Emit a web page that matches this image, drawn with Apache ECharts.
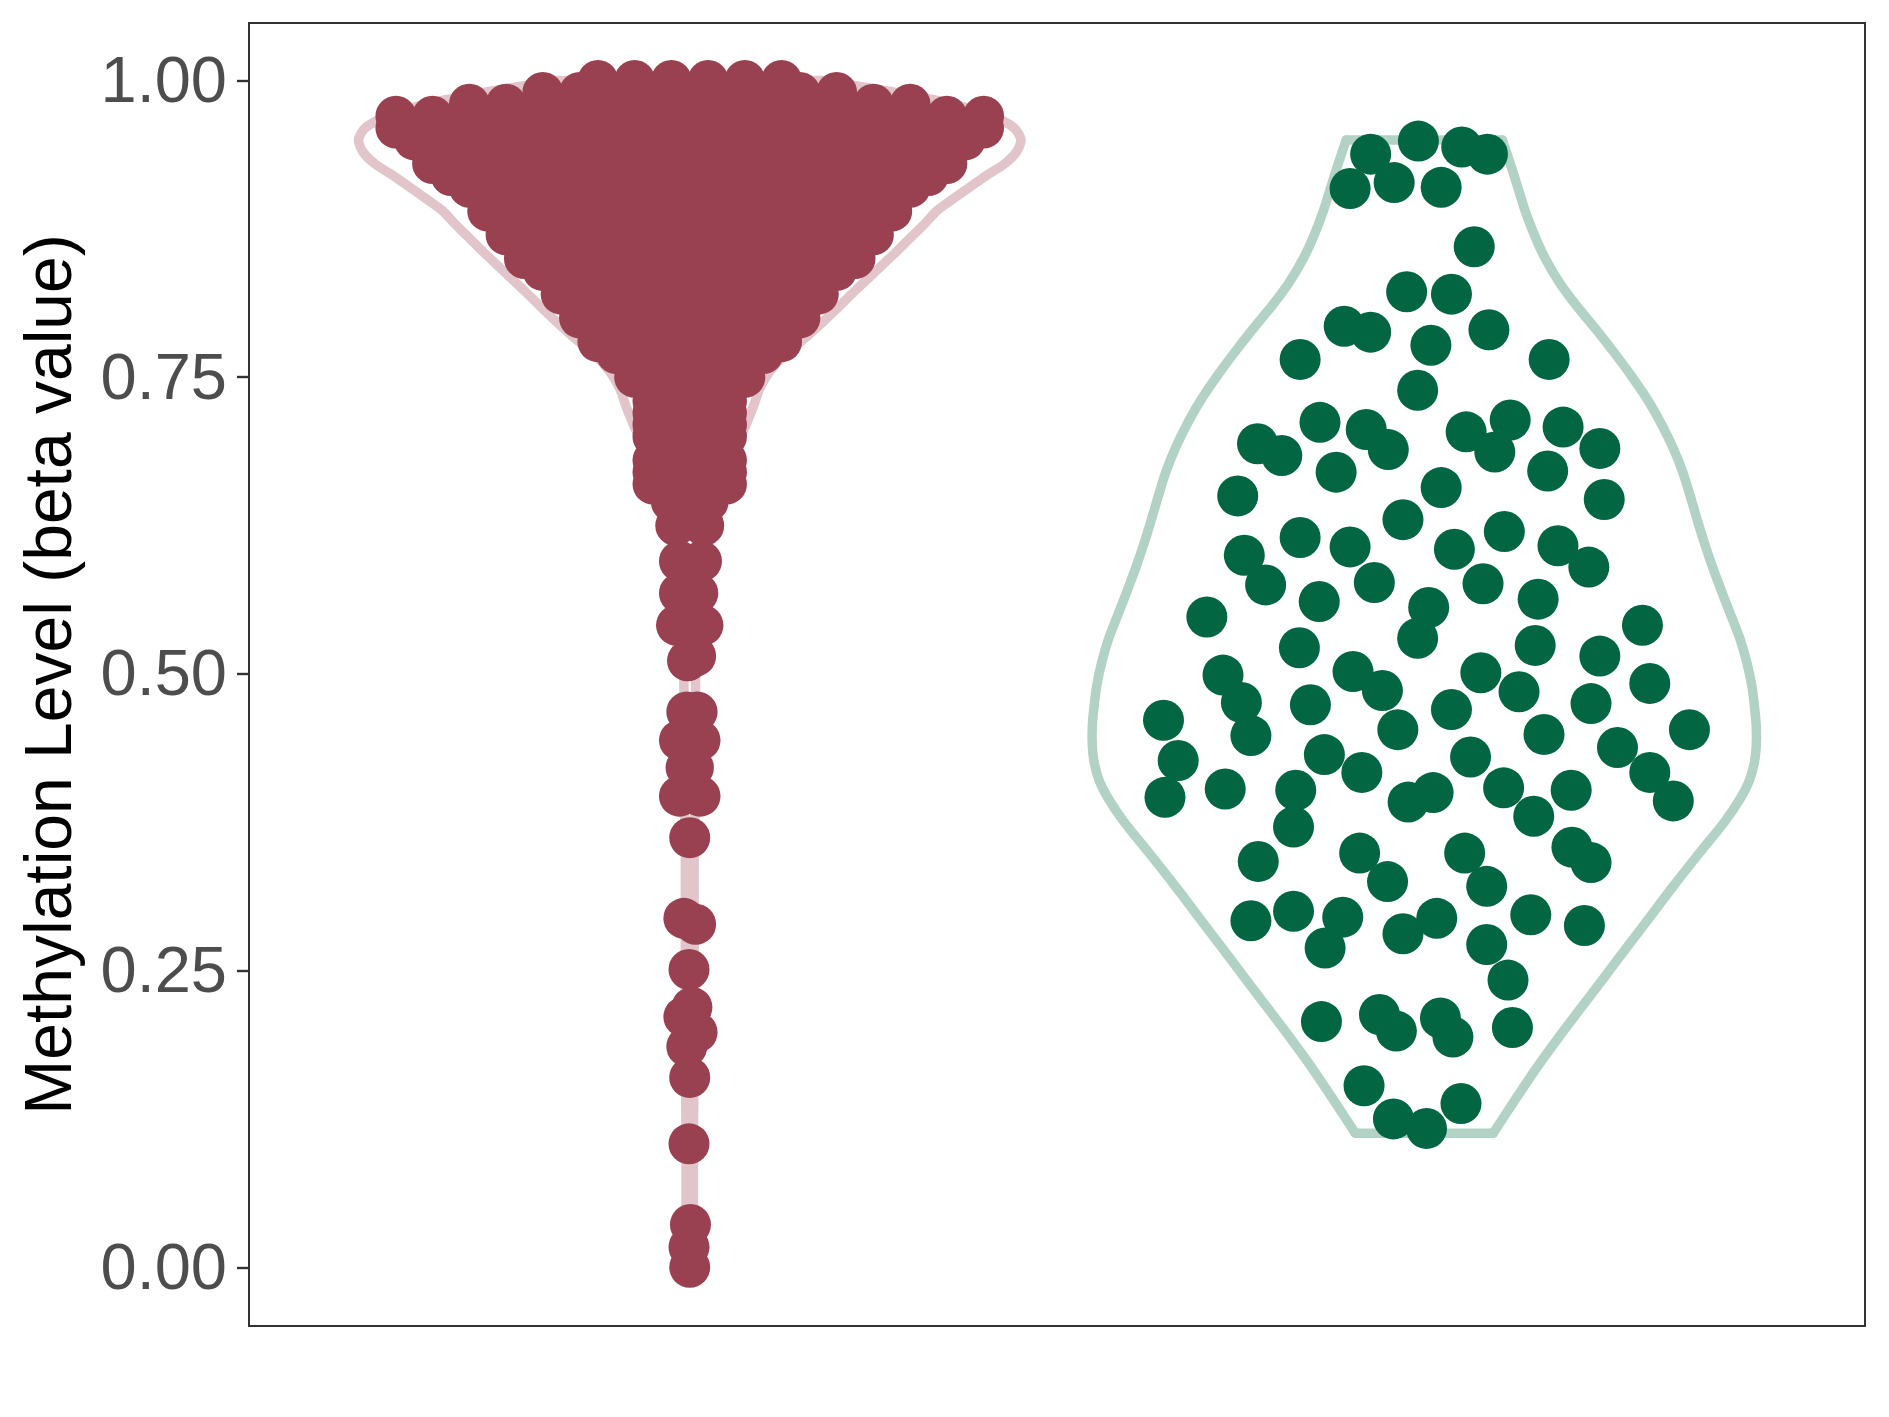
<!DOCTYPE html>
<html>
<head>
<meta charset="utf-8">
<script src="https://cdn.jsdelivr.net/npm/echarts@6/dist/echarts.min.js"></script>
<style>
html,body{margin:0;padding:0;background:#ffffff;}
#chart{width:1889px;height:1417px;}
</style>
</head>
<body>
<div id="chart"></div>
<script>
// ---------------- data ----------------
const groupPositions = [1, 2];               // left group, right group (x positions)
const yTicks = [0, 0.25, 0.5, 0.75, 1];

// Left group: dense beeswarm rows (value level, number of points at that level)
const leftRowY = [1.00,0.99,0.98,0.97,0.96,0.95,0.94,0.93,0.92,0.91,0.90,0.89,0.88,0.87,0.86,0.85,0.84,0.83,0.82,0.81,0.80,0.79,0.78,0.77,0.76,0.75,0.74,0.73,0.72,0.71,0.70,0.69,0.68,0.67,0.66];
const leftRowCount = [6,9,13,17,17,16,15,15,14,13,12,12,11,11,10,10,9,8,8,7,7,6,6,5,4,4,3,3,3,3,3,2,3,3,3];

// Left group: sparse tail points (value, horizontal swarm offset)
const leftTailY  = [0.645,0.645,0.625,0.625,0.595,0.595,0.568,0.568,0.541,0.541,0.515,0.511,0.468,0.468,0.444,0.444,0.421,0.421,0.397,0.397,0.362,0.294,0.289,0.251,0.219,0.211,0.198,0.186,0.160,0.104,0.036,0.017,0.000];
const leftTailDx = [-0.025,0.025,-0.019,0.019,-0.014,0.016,-0.014,0.011,-0.018,0.018,0.008,-0.003,-0.004,0.010,-0.014,0.014,-0.005,0.005,-0.014,0.014,0.000,-0.008,0.008,-0.001,0.003,-0.008,0.010,-0.004,0.000,-0.001,0.001,-0.001,0.000];

// Right group: values and jitter offsets
const rightY = [0.938,0.949,0.909,0.914,0.910,0.822,0.793,0.788,0.765,0.777,0.739,0.712,0.706,0.689,0.694,0.684,0.670,0.650,0.630,0.615,0.607,0.600,0.575,0.561,0.577,0.548,0.556,0.944,0.938,0.860,0.820,0.790,0.765,0.704,0.714,0.687,0.708,0.690,0.671,0.647,0.657,0.620,0.605,0.608,0.590,0.576,0.563,0.541,0.522,0.530,0.499,0.476,0.448,0.502,0.486,0.474,0.453,0.461,0.427,0.396,0.403,0.432,0.417,0.402,0.371,0.392,0.342,0.349,0.325,0.292,0.300,0.295,0.269,0.281,0.207,0.213,0.199,0.153,0.125,0.524,0.515,0.501,0.485,0.470,0.475,0.492,0.453,0.449,0.430,0.438,0.417,0.393,0.400,0.404,0.380,0.402,0.349,0.321,0.354,0.341,0.294,0.297,0.288,0.272,0.242,0.210,0.194,0.202,0.138,0.117];
const rightDx = [-0.073,-0.008,-0.101,-0.041,0.023,-0.024,-0.109,-0.073,-0.169,0.009,-0.009,-0.142,-0.079,-0.049,-0.227,-0.194,-0.120,-0.254,-0.029,-0.169,-0.101,-0.245,-0.216,-0.143,-0.068,-0.296,0.006,0.051,0.086,0.068,0.037,0.088,0.170,0.057,0.117,0.096,0.189,0.239,0.168,0.245,0.023,0.109,0.041,0.182,0.224,0.080,0.155,0.297,-0.170,-0.009,-0.274,-0.249,-0.236,-0.097,-0.057,-0.155,-0.036,-0.355,-0.335,-0.353,-0.271,-0.136,-0.085,-0.175,-0.178,-0.022,-0.226,-0.088,-0.050,-0.236,-0.178,-0.111,-0.135,-0.029,-0.140,-0.061,-0.038,-0.082,-0.042,0.151,0.239,0.077,0.129,0.037,0.227,0.307,0.361,0.163,0.063,0.263,0.307,0.339,0.012,0.108,0.149,0.200,0.055,0.085,0.201,0.227,0.017,0.145,0.218,0.085,0.114,0.022,0.039,0.120,0.050,0.003];

// Violin outlines (value level, half width in x-axis units), bottom to top
const leftViolinY  = [0.000,0.050,0.100,0.150,0.200,0.250,0.300,0.350,0.400,0.450,0.500,0.520,0.540,0.560,0.580,0.600,0.620,0.640,0.660,0.680,0.698,0.712,0.726,0.740,0.754,0.768,0.782,0.796,0.810,0.824,0.838,0.852,0.866,0.880,0.890,0.900,0.910,0.920,0.930,0.940,0.950,0.960,0.970,0.980,0.990,1.000];
const leftViolinHW = [0.004,0.005,0.005,0.0055,0.006,0.006,0.006,0.006,0.0075,0.008,0.008,0.0095,0.011,0.014,0.016,0.020,0.026,0.034,0.045,0.057,0.068,0.078,0.087,0.095,0.108,0.128,0.155,0.180,0.204,0.227,0.251,0.275,0.298,0.321,0.336,0.358,0.381,0.404,0.429,0.445,0.451,0.442,0.413,0.360,0.280,0.180];
const rightViolinY  = [0.113,0.140,0.170,0.200,0.230,0.260,0.290,0.320,0.350,0.375,0.395,0.410,0.425,0.440,0.455,0.470,0.490,0.510,0.530,0.550,0.570,0.590,0.610,0.630,0.650,0.670,0.690,0.710,0.730,0.750,0.770,0.790,0.810,0.830,0.850,0.870,0.890,0.910,0.930,0.950];
const rightViolinHW = [0.0939,0.1225,0.1552,0.1906,0.2274,0.2641,0.3009,0.3376,0.3758,0.4084,0.4302,0.4425,0.4493,0.4520,0.4520,0.4500,0.4459,0.4390,0.4295,0.4170,0.4045,0.3925,0.3815,0.3715,0.3620,0.3519,0.3390,0.3233,0.3050,0.2832,0.2594,0.2342,0.2076,0.1838,0.1647,0.1498,0.1375,0.1273,0.1171,0.1062];

// ---------------- build series data ----------------
const SWARM_STEP = 0.05;
const leftPoints = [];
leftRowY.forEach((v, i) => {
  const n = leftRowCount[i];
  for (let k = 0; k < n; k++) {
    leftPoints.push([groupPositions[0] + (k - (n - 1) / 2) * SWARM_STEP, v]);
  }
});
leftTailY.forEach((v, i) => leftPoints.push([groupPositions[0] + leftTailDx[i], v]));
const rightPoints = rightY.map((v, i) => [groupPositions[1] + rightDx[i], v]);

const FONT = '"Liberation Sans", Arial, Helvetica, sans-serif';

function violinSeries(center, ys, hws, color, smooth) {
  return {
    type: 'custom',
    coordinateSystem: 'cartesian2d',
    clip: false,
    silent: true,
    data: [[center, ys[0]]],
    renderItem: function (params, api) {
      const left = ys.map((v, i) => api.coord([center - hws[i], v]));
      const right = ys.map((v, i) => api.coord([center + hws[i], v]));
      const st = { stroke: color, lineWidth: 9.5, fill: null, lineJoin: 'round', lineCap: 'round' };
      const last = ys.length - 1;
      return {
        type: 'group',
        children: [
          { type: 'polyline', shape: { points: left, smooth: smooth }, style: st },
          { type: 'polyline', shape: { points: right, smooth: smooth }, style: st },
          { type: 'line', shape: { x1: left[last][0], y1: left[last][1], x2: right[last][0], y2: right[last][1] }, style: st },
          { type: 'line', shape: { x1: left[0][0], y1: left[0][1], x2: right[0][0], y2: right[0][1] }, style: st }
        ]
      };
    }
  };
}

const chart = echarts.init(document.getElementById('chart'), null, { renderer: 'canvas' });
chart.setOption({
  animation: false,
  backgroundColor: '#ffffff',
  grid: {
    left: 249, top: 23, right: 24, bottom: 91,
    show: true, borderColor: '#333333', borderWidth: 2, backgroundColor: 'transparent'
  },
  xAxis: {
    type: 'value', min: 0.4, max: 2.6,
    axisLine: { show: false, onZero: false },
    axisTick: { show: false },
    axisLabel: { show: false },
    splitLine: { show: false }
  },
  yAxis: {
    type: 'value', min: -0.0495, max: 1.0485,
    name: 'Methylation Level (beta value)',
    nameLocation: 'middle',
    nameGap: 163,
    nameRotate: 90,
    nameTextStyle: { fontSize: 66, color: '#000000', fontFamily: FONT },
    axisLine: { show: true, onZero: false, lineStyle: { color: '#333333', width: 2 } },
    axisTick: { show: true, length: 12, inside: false, customValues: yTicks, lineStyle: { color: '#333333', width: 2.4 } },
    axisLabel: {
      customValues: yTicks,
      formatter: function (v) { return '{t|' + Number(v).toFixed(2) + '}'; },
      fontSize: 65, color: '#4D4D4D', margin: 22, fontFamily: FONT,
      rich: { t: { fontSize: 65, color: '#4D4D4D', fontFamily: FONT, padding: [7, 0, 0, 0] } }
    },
    splitLine: { show: false }
  },
  series: [
    violinSeries(groupPositions[0], leftViolinY, leftViolinHW, '#E1C5CA', 0.25),
    violinSeries(groupPositions[1], rightViolinY, rightViolinHW, '#B3D2C6', 0.3),
    {
      type: 'scatter', clip: false, silent: true,
      symbol: 'circle', symbolSize: 41,
      itemStyle: { color: '#9A4151', opacity: 1 },
      data: leftPoints
    },
    {
      type: 'scatter', clip: false, silent: true,
      symbol: 'circle', symbolSize: 41,
      itemStyle: { color: '#036642', opacity: 1 },
      data: rightPoints
    }
  ]
});
</script>
</body>
</html>
